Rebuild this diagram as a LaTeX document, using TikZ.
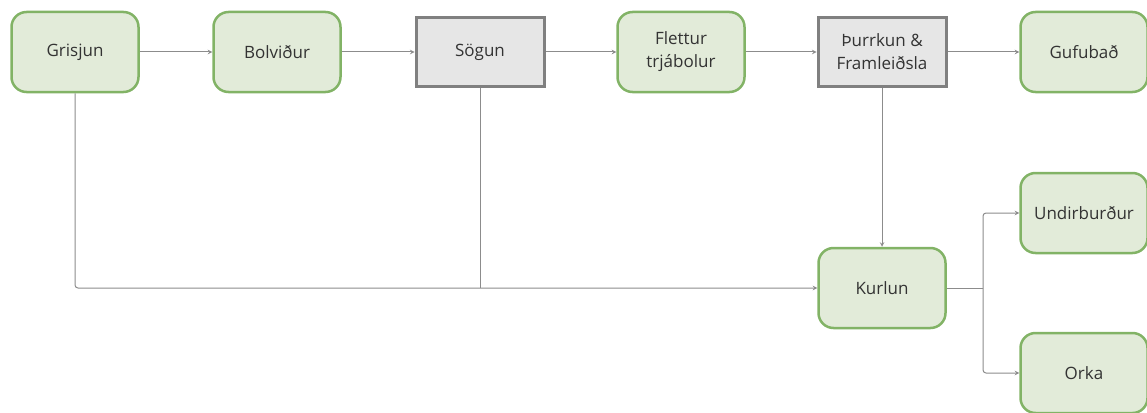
\documentclass[tikz,border=0pt]{standalone}
\usepackage{fontspec}
\setmainfont{Open Sans}
\usetikzlibrary{arrows}
\definecolor{boxgreen}{HTML}{82B366}
\definecolor{fillgreen}{HTML}{E2EBD9}
\definecolor{boxgrey}{HTML}{808080}
\definecolor{fillgrey}{HTML}{E6E6E6}
\definecolor{linegrey}{HTML}{8C8C8C}
\definecolor{textgrey}{HTML}{333333}
\begin{document}
\begin{tikzpicture}[x=1pt,y=-1pt,>=stealth,
    greenbox/.style={draw=boxgreen,fill=fillgreen,line width=2.5pt,rounded corners=15pt,
      minimum width=127pt,minimum height=80pt,align=center,text=textgrey,
      font=\fontsize{17}{23}\selectfont},
    greybox/.style={draw=boxgrey,fill=fillgrey,line width=3pt,
      minimum width=128pt,minimum height=68pt,align=center,text=textgrey,
      font=\fontsize{17}{23}\selectfont},
    flow/.style={draw=linegrey,line width=1pt,rounded corners=3pt}]
    \useasboundingbox (0,0) rectangle (1147,412);
    \node[greenbox] (grisjun) at (75,52) {Grisjun};
    \node[greenbox] (bolvidur) at (277,52) {Bolviður};
    \node[greybox] (sogun) at (480,52) {Sögun};
    \node[greenbox] (flettur) at (681,52) {Flettur\\trjábolur};
    \node[greybox] (thurrkun) at (882,52) {Þurrkun \&\\Framleiðsla};
    \node[greenbox] (gufubad) at (1084,52) {Gufubað};
    \node[greenbox] (kurlun) at (882,288) {Kurlun};
    \node[greenbox] (undir) at (1084,213) {Undirburður};
    \node[greenbox] (orka) at (1084,373) {Orka};
    \coordinate (split) at (983,288);
    \draw[flow,->] (grisjun) -- (bolvidur);
    \draw[flow,->] (bolvidur) -- (sogun);
    \draw[flow,->] (sogun) -- (flettur);
    \draw[flow,->] (flettur) -- (thurrkun);
    \draw[flow,->] (thurrkun) -- (gufubad);
    \draw[flow,->] (thurrkun) -- (kurlun);
    \draw[flow,->] (grisjun.south) |- (kurlun.west);
    \draw[flow] (sogun.south) -- (sogun.south |- kurlun.west);
    \draw[flow] (kurlun.east) -- (split);
    \draw[flow,->] (split) |- (undir.west);
    \draw[flow,->] (split) |- (orka.west);
\end{tikzpicture}
\end{document}
